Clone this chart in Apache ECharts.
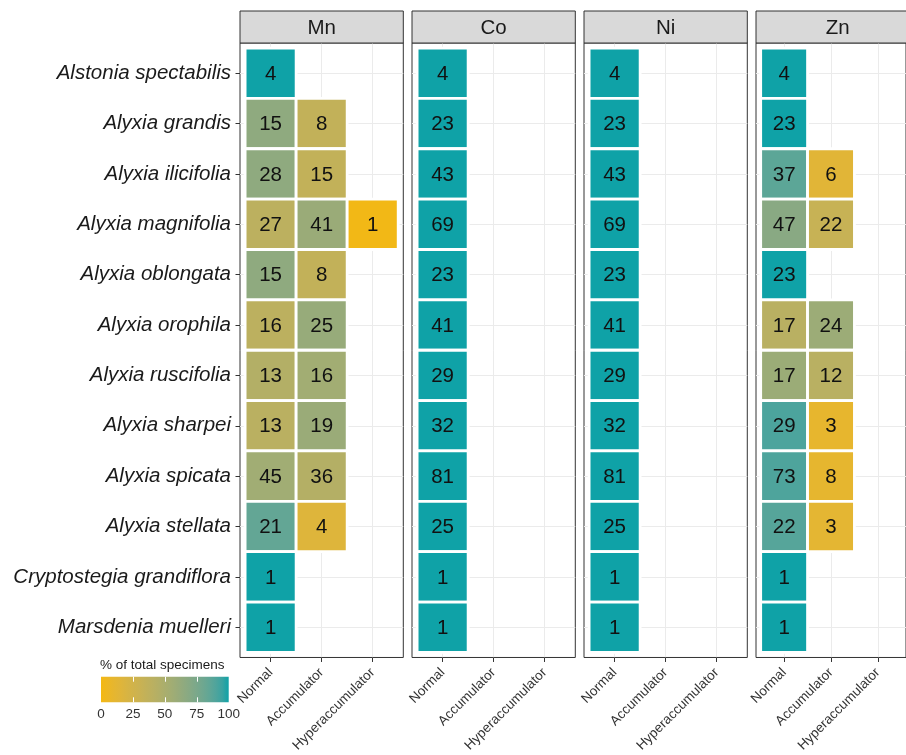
<!DOCTYPE html>
<html>
<head>
<meta charset="utf-8">
<script src="https://cdn.jsdelivr.net/npm/echarts@6/dist/echarts.min.js"></script>
<style>
  html, body { margin: 0; padding: 0; background: #ffffff; }
  #chart { width: 906px; height: 755px; }
</style>
</head>
<body>
<div id="chart"></div>
<script>
// ---- data ----
const species = [
  'Alstonia spectabilis', 'Alyxia grandis', 'Alyxia ilicifolia', 'Alyxia magnifolia',
  'Alyxia oblongata', 'Alyxia orophila', 'Alyxia ruscifolia', 'Alyxia sharpei',
  'Alyxia spicata', 'Alyxia stellata', 'Cryptostegia grandiflora', 'Marsdenia muelleri'
];
const classes = ['Normal', 'Accumulator', 'Hyperaccumulator'];
const elements = ['Mn', 'Co', 'Ni', 'Zn'];

// specimen counts per species (null = no specimens in that class)
const mnNormal = [4, 15, 28, 27, 15, 16, 13, 13, 45, 21, 1, 1];
const mnAccumulator = [null, 8, 15, 41, 8, 25, 16, 19, 36, 4, null, null];
const mnHyper = [null, null, null, 1, null, null, null, null, null, null, null, null];

const coNormal = [4, 23, 43, 69, 23, 41, 29, 32, 81, 25, 1, 1];
const coAccumulator = [null, null, null, null, null, null, null, null, null, null, null, null];
const coHyper = [null, null, null, null, null, null, null, null, null, null, null, null];

const niNormal = [4, 23, 43, 69, 23, 41, 29, 32, 81, 25, 1, 1];
const niAccumulator = [null, null, null, null, null, null, null, null, null, null, null, null];
const niHyper = [null, null, null, null, null, null, null, null, null, null, null, null];

const znNormal = [4, 23, 37, 47, 23, 17, 17, 29, 73, 22, 1, 1];
const znAccumulator = [null, null, 6, 22, null, 24, 12, 3, 8, 3, null, null];
const znHyper = [null, null, null, null, null, null, null, null, null, null, null, null];

const legendTicks = [0, 25, 50, 75, 100];

const panels = [
  [mnNormal, mnAccumulator, mnHyper],
  [coNormal, coAccumulator, coHyper],
  [niNormal, niAccumulator, niHyper],
  [znNormal, znAccumulator, znHyper]
];

// ---- colour ramp (interpolated in CIELAB) ----
const lowColor = [244, 184, 17];
const highColor = [15, 162, 167];

function toLin(c) { c /= 255; return c <= 0.04045 ? c / 12.92 : Math.pow((c + 0.055) / 1.055, 2.4); }
function fromLin(c) {
  const v = c <= 0.0031308 ? 12.92 * c : 1.055 * Math.pow(c, 1 / 2.4) - 0.055;
  return Math.max(0, Math.min(255, Math.round(v * 255)));
}
const WN = [0.95047, 1.0, 1.08883];
function fLab(t) { return t > 0.008856 ? Math.cbrt(t) : 7.787 * t + 16 / 116; }
function fLabInv(t) { return t > 0.206893 ? t * t * t : (t - 16 / 116) / 7.787; }
function rgbToLab(rgb) {
  const r = toLin(rgb[0]), g = toLin(rgb[1]), b = toLin(rgb[2]);
  const X = (0.4124 * r + 0.3576 * g + 0.1805 * b) / WN[0];
  const Y = (0.2126 * r + 0.7152 * g + 0.0722 * b) / WN[1];
  const Z = (0.0193 * r + 0.1192 * g + 0.9505 * b) / WN[2];
  const fx = fLab(X), fy = fLab(Y), fz = fLab(Z);
  return [116 * fy - 16, 500 * (fx - fy), 200 * (fy - fz)];
}
function labToRgb(lab) {
  const fy = (lab[0] + 16) / 116, fx = fy + lab[1] / 500, fz = fy - lab[2] / 200;
  const X = fLabInv(fx) * WN[0], Y = fLabInv(fy) * WN[1], Z = fLabInv(fz) * WN[2];
  const r = 3.2406 * X - 1.5372 * Y - 0.4986 * Z;
  const g = -0.9689 * X + 1.8758 * Y + 0.0415 * Z;
  const b = 0.0557 * X - 0.2040 * Y + 1.0570 * Z;
  return 'rgb(' + fromLin(r) + ',' + fromLin(g) + ',' + fromLin(b) + ')';
}
const labLow = rgbToLab(lowColor), labHigh = rgbToLab(highColor);
const rampStops = [];
for (let i = 0; i <= 20; i++) {
  const t = i / 20;
  rampStops.push(labToRgb([0, 1, 2].map(k => labLow[k] + (labHigh[k] - labLow[k]) * t)));
}

// ---- layout ----
const FONT = "'Liberation Sans', Arial, Helvetica, sans-serif";
const panelLeft0 = 240, panelStep = 172, panelWidth = 163.3;
const panelTop = 43, panelHeight = 615.5;
const stripTop = 11, stripHeight = 32;
const legendBar = { left: 101, top: 676.7, width: 127.7, height: 25.6 };

const grids = [], xAxes = [], yAxes = [], series = [], graphics = [];

elements.forEach((el, i) => {
  const left = panelLeft0 + panelStep * i;
  grids.push({
    left: left, top: panelTop, width: panelWidth, height: panelHeight,
    show: true, borderColor: '#333333', borderWidth: 1, backgroundColor: '#ffffff'
  });
  xAxes.push({
    gridIndex: i, type: 'value', min: 0.4, max: 3.6,
    axisLine: { show: false },
    axisTick: { show: true, customValues: [1, 2, 3], length: 4.5, lineStyle: { color: '#333333' } },
    axisLabel: {
      show: true, customValues: [1, 2, 3], rotate: 45, margin: 13,
      fontSize: 13.5, fontFamily: FONT, color: '#333333',
      formatter: v => classes[Math.round(v) - 1]
    },
    splitLine: { show: true, lineStyle: { color: '#ebebeb', width: 1 } }
  });
  yAxes.push({
    gridIndex: i, type: 'value', min: 0.4, max: 12.6, inverse: true,
    axisLine: { show: false },
    axisTick: {
      show: i === 0, customValues: species.map((s, k) => k + 1),
      length: 4.5, lineStyle: { color: '#333333' }
    },
    axisLabel: {
      show: i === 0, customValues: species.map((s, k) => k + 1), margin: 9,
      fontSize: 20.5, fontStyle: 'italic', fontFamily: FONT, color: '#1a1a1a',
      formatter: v => species[Math.round(v) - 1]
    },
    splitLine: { show: true, lineStyle: { color: '#ebebeb', width: 1 } }
  });

  const data = [];
  panels[i].forEach((counts, c) => {
    counts.forEach((n, r) => {
      if (n == null) return;
      const total = panels[i].reduce((s, arr) => s + (arr[r] || 0), 0);
      data.push([c + 1, r + 1, n / total * 100, n]);
    });
  });
  series.push({
    type: 'custom', name: el, xAxisIndex: i, yAxisIndex: i,
    encode: { x: 0, y: 1 },
    data: data,
    renderItem: function (params, api) {
      const cx = api.value(0), cy = api.value(1);
      const p0 = api.coord([cx - 0.5, cy - 0.5]);
      const p1 = api.coord([cx + 0.5, cy + 0.5]);
      const x = Math.min(p0[0], p1[0]), y = Math.min(p0[1], p1[1]);
      const w = Math.abs(p1[0] - p0[0]), h = Math.abs(p1[1] - p0[1]);
      return {
        type: 'group',
        children: [
          { type: 'rect', shape: { x: x, y: y, width: w, height: h },
            style: { fill: api.visual('color'), stroke: '#ffffff', lineWidth: 2.8 } },
          { type: 'text',
            style: { text: String(api.value(3)), x: x + w / 2, y: y + h / 2 + 1,
                     align: 'center', verticalAlign: 'middle',
                     fill: '#111111', fontSize: 20.5, fontFamily: FONT } }
        ]
      };
    }
  });

  // facet strip
  graphics.push({
    type: 'rect', z: 5,
    shape: { x: left, y: stripTop, width: panelWidth, height: stripHeight },
    style: { fill: '#d9d9d9', stroke: '#333333', lineWidth: 1 }
  });
  graphics.push({
    type: 'text', z: 6,
    style: { text: el, x: left + panelWidth / 2, y: stripTop + stripHeight / 2 + 1,
             align: 'center', verticalAlign: 'middle',
             fill: '#1a1a1a', fontSize: 20.5, fontFamily: FONT }
  });
});

// ---- colour legend ----
const legendGridIndex = grids.length;
grids.push({
  left: legendBar.left, top: legendBar.top, width: legendBar.width, height: legendBar.height,
  show: false
});
xAxes.push({
  gridIndex: legendGridIndex, type: 'value', position: 'bottom', z: 10,
  min: 0, max: 100, interval: 25,
  axisLine: { show: false },
  axisTick: { show: true, inside: true, length: 5, customValues: [25, 50, 75],
              lineStyle: { color: '#ffffff', width: 1 } },
  axisLabel: { show: true, margin: 5, fontSize: 13.5, fontFamily: FONT, color: '#333333',
               customValues: legendTicks },
  splitLine: { show: false }
});
xAxes.push({
  gridIndex: legendGridIndex, type: 'value', position: 'top', z: 10,
  min: 0, max: 100, interval: 25,
  axisLine: { show: false },
  axisTick: { show: true, inside: true, length: 5, customValues: [25, 50, 75],
              lineStyle: { color: '#ffffff', width: 1 } },
  axisLabel: { show: false },
  splitLine: { show: false }
});
yAxes.push({
  gridIndex: legendGridIndex, type: 'value', show: false, min: 0, max: 1
});

graphics.push({
  type: 'rect', z: 1,
  shape: { x: legendBar.left, y: legendBar.top, width: legendBar.width, height: legendBar.height },
  style: {
    fill: new echarts.graphic.LinearGradient(0, 0, 1, 0,
      rampStops.map((c, k) => ({ offset: k / (rampStops.length - 1), color: c })))
  }
});
graphics.push({
  type: 'text', z: 6,
  style: { text: '% of total specimens', x: legendBar.left - 1, y: 665,
           align: 'left', verticalAlign: 'middle',
           fill: '#1a1a1a', fontSize: 13.5, fontFamily: FONT }
});

const chart = echarts.init(document.getElementById('chart'), null, { renderer: 'canvas' });
chart.setOption({
  animation: false,
  backgroundColor: '#ffffff',
  textStyle: { fontFamily: FONT },
  grid: grids,
  xAxis: xAxes,
  yAxis: yAxes,
  visualMap: {
    type: 'continuous', show: false, min: 0, max: 100, dimension: 2,
    seriesIndex: [0, 1, 2, 3],
    inRange: { color: rampStops }
  },
  graphic: graphics,
  series: series
});
</script>
</body>
</html>
